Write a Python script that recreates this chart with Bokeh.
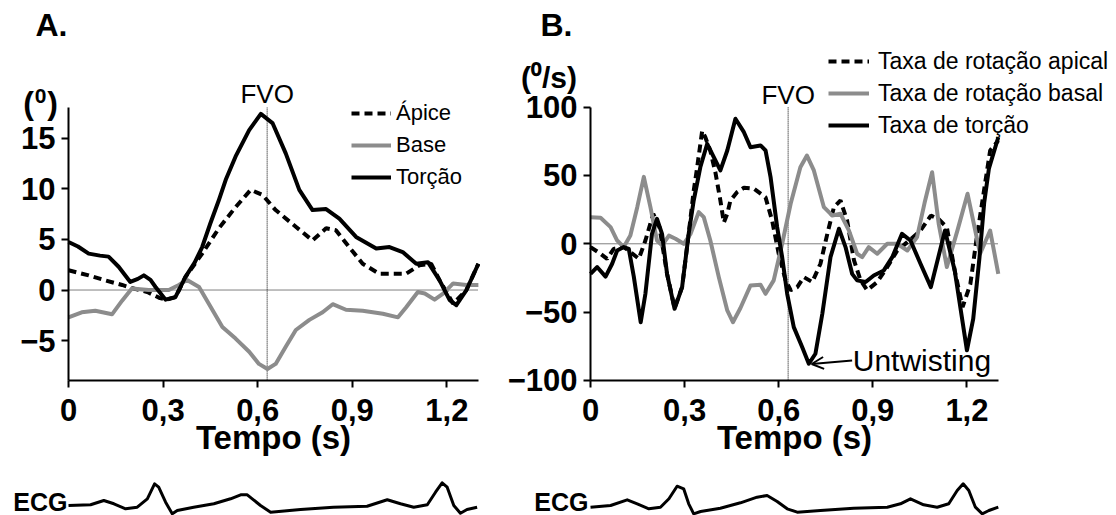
from bokeh.plotting import figure
from bokeh.models import Range1d, FixedTicker, Label, Legend, LegendItem, Arrow, OpenHead
from bokeh.layouts import row
from bokeh.embed import file_html
from bokeh.resources import INLINE

FONT = "Liberation Sans"

# ---------------- Panel A: rotation (degrees) ----------------
torcao_t = [0, .03, .064, .1, .127, .159, .196, .22, .239, .26, .276, .308, .339, .371, .4, .424, .45, .477,
            .5, .53, .573, .61, .647, .689, .732, .774, .817, .859, .912, .976, 1.018, 1.06, 1.103, 1.14,
            1.177, 1.209, 1.23, 1.262, 1.3]
torcao_v = [4.75, 4.3, 3.6, 3.4, 3.3, 2.3, 0.8, 1.1, 1.45, 1.0, 0.3, -0.95, -0.7, 1.3, 2.7, 4.25, 6.6, 8.9,
            11.0, 13.2, 15.8, 17.4, 16.5, 13.5, 9.9, 7.9, 8.0, 7.05, 5.25, 4.1, 4.25, 3.75, 2.6, 2.75,
            0.95, -1.0, -1.5, 0.0, 2.6]

apice_t = [0, .064, .117, .17, .2, .25, .29, .31, .34, .371, .424, .477, .53, .578, .615, .657, .721, .774,
           .817, .848, .89, .933, .986, 1.07, 1.113, 1.15, 1.177, 1.22, 1.262, 1.3]
apice_v = [1.95, 1.45, 0.95, 0.5, 0.2, -0.2, -0.8, -0.95, -0.7, 1.3, 3.6, 6.1, 8.2, 9.9, 9.4, 7.9, 6.25, 4.9,
           6.1, 5.9, 4.25, 2.6, 1.6, 1.6, 2.45, 2.6, 0.95, -1.35, 0.0, 2.6]

base_t = [0, .042, .085, .138, .17, .201, .254, .318, .35, .376, .414, .445, .488, .53, .573, .604, .631,
          .657, .689, .721, .764, .806, .838, .88, .933, .997, 1.045, 1.071, 1.108, 1.13, 1.161, 1.188,
          1.22, 1.262, 1.3]
base_v = [-2.7, -2.2, -2.05, -2.4, -1.05, 0.15, 0.0, 0.0, 0.5, 1.0, 0.3, -1.35, -3.65, -4.8, -6.1, -7.3, -7.8,
          -7.3, -5.6, -3.95, -2.95, -2.2, -1.4, -1.95, -2.05, -2.35, -2.7, -1.7, -0.2, -0.35, -0.95, -0.35,
          0.65, 0.5, 0.5]

# ---------------- Panel B: rotation rates (deg/s) ----------------
tx_torcao_t = [0, .021, .048, .069, .085, .106, .122, .138, .16, .175, .196, .212, .228, .244, .268, .292,
               .313, .329, .35, .372, .393, .414, .436, .462, .489, .51, .542, .558, .574, .595, .611, .627,
               .648, .675, .696, .717, .739, .765, .792, .813, .834, .85, .877, .903, .935, .962, .993, 1.02,
               1.052, 1.085, 1.13, 1.161, 1.2, 1.22, 1.24, 1.255, 1.27, 1.3]
tx_torcao_v = [-22, -17, -24, -14.6, -4.9, -2.4, -3.7, -24, -57.4, -36.6, 7.3, 18.3, 7.3, -22, -47.6, -31.7,
               7.3, 31.7, 56, 73.2, 63.4, 53.7, 68.3, 91.5, 81.7, 70.7, 72, 68.3, 48.8, 12.2, -9.8, -36.6,
               -61, -75.7, -87.8, -80.5, -51.2, -9.8, 11, -2.4, -22, -26.8, -28, -23.2, -19.5, -9.8, 7.3, 2.4,
               -14.6, -31.7, 9.7, -19.5, -78, -55, -10, 30, 55, 78]

tx_apical_t = [0, .032, .053, .074, .106, .127, .154, .175, .2, .22, .244, .268, .292, .313, .329, .34, .356,
               .366, .382, .398, .414, .425, .436, .446, .467, .489, .521, .558, .579, .6, .622, .638, .659,
               .68, .707, .733, .755, .776, .797, .818, .84, .861, .882, .914, .946, .978, 1.01, 1.052, 1.085,
               1.11, 1.136, 1.161, 1.186, 1.211, 1.23, 1.274, 1.3]
tx_apical_v = [-2.4, -7.3, -11, -3.7, -2.4, -6, -11, 2.4, 22, 12, -22, -47, -31.7, 7.3, 38.8, 56, 82.7,
               78, 68, 52.4, 31.7, 15.6, 22, 31.7, 37.8, 41, 40.3, 34, 17, -7.3, -26.8, -34, -31.7,
               -24.4, -28, -14.6, 7.3, 26.8, 31.7, 17, -12.2, -26.8, -34, -28, -17, -4.9, 1.2, 9.7, 20.7,
               18, 12, -19.5, -46.4, -29.3, 2.4, 68.3, 75.6]

tx_basal_t = [0, .032, .064, .085, .106, .127, .149, .17, .191, .212, .228, .25, .271, .297, .319, .345, .361,
              .382, .409, .436, .454, .478, .51, .542, .558, .584, .611, .638, .669, .69, .712, .744, .771,
              .797, .824, .85, .866, .887, .914, .946, .978, 1.01, 1.041, 1.065, 1.089, 1.11, 1.136, 1.17,
              1.202, 1.242, 1.274, 1.3]
tx_basal_v = [19.5, 19, 12.2, 2.4, -2.4, 6, 26.8, 49, 26.8, 2.4, -1.2, 6, 3.7, 0, 7.3, 23.2, 19.5,
              2.4, -24.4, -48.8, -57.4, -47, -30.5, -30, -36.6, -26.8, 0, 29.3, 56, 64.6, 53.7, 26.8, 20.7,
              22, 9.7, -7.3, -9.8, -2.4, -7.3, 0, 0, -4.9, 4.9, 30, 52.4, 14.6, -17, 10,
              36.6, -7.3, 9.7, -22]

# ---------------- ECG traces (arbitrary units) ----------------
ecg_a_t = [0, .070, .112, .144, .181, .218, .25, .273, .286, .308, .329, .345, .397, .461, .514, .546, .567,
           .609, .641, .736, .84, .947, 1.011, 1.053, 1.095, 1.138, 1.164, 1.185, 1.201, 1.222, 1.243, 1.264,
           1.296]
ecg_a_v = [0, .035, .25, .085, -.165, -.085, .335, 1.085, .915, .165, -.415, -.25, -.085, .085, .335, .535,
           .535, 0, -.335, -.2, -.085, -.035, .285, .085, -.085, .035, .665, 1.135, .915, 0, -.385, -.2, -.085]

ecg_b_t = [0, .064, .117, .149, .186, .223, .25, .276, .297, .313, .329, .351, .414, .478, .531, .563, .595,
           .627, .659, .733, .839, .946, .988, 1.02, 1.062, 1.105, 1.142, 1.169, 1.188, 1.206, 1.227, 1.249,
           1.27, 1.3]
ecg_b_v = [-.085, 0, .285, .085, -.165, -.085, .335, .965, .835, .085, -.415, -.3, -.135, .135, .415, .5, .2,
           -.165, -.335, -.25, -.135, -.085, .085, .335, .035, -.085, .085, .75, 1.085, .75, -.085, -.415,
           -.25, -.085]

x_ticks = [0, 0.3, 0.6, 0.9, 1.2]
x_tick_labels = ["0", "0,3", "0,6", "0,9", "1,2"]
time_bounds = (0, 1.3)
a_y_ticks = [-5, 0, 5, 10, 15]
a_y_bounds = (-8.93, 18.03)
b_y_ticks = [-100, -50, 0, 50, 100]
b_y_bounds = (-100, 100)
fvo_time = 0.63

BLACK = "#000000"
GRAY = "#8c8c8c"


def txt(p, x, y, text, size, bold=False, align="left", **kw):
    p.add_layout(Label(x=x, y=y, text=text, text_font=FONT, text_font_size=size,
                       text_font_style="bold" if bold else "normal", text_color=BLACK,
                       text_align=align, text_baseline="middle", **kw))


def make_panel(width, x_range, y_range, ecg_range, yticks, ybounds):
    p = figure(width=width, height=515, x_range=x_range, y_range=y_range,
               extra_y_ranges={"ecg": ecg_range},
               output_backend="svg", toolbar_location=None, min_border=0)
    p.grid.visible = False
    p.outline_line_color = None
    p.background_fill_color = "white"
    p.xaxis.fixed_location = ybounds[0]
    p.xaxis.bounds = time_bounds
    p.yaxis.fixed_location = 0
    p.yaxis.bounds = ybounds
    p.xaxis.ticker = FixedTicker(ticks=x_ticks)
    p.xaxis.major_label_overrides = {t: l for t, l in zip(x_ticks, x_tick_labels)}
    p.yaxis.ticker = FixedTicker(ticks=yticks)
    for ax in (p.xaxis, p.yaxis):
        ax.axis_line_width = 2
        ax.major_tick_line_width = 2
        ax.major_tick_out = 7
        ax.major_tick_in = 0
        ax.minor_tick_line_color = None
        ax.major_label_text_font = FONT
        ax.major_label_text_font_style = "bold"
        ax.major_label_text_font_size = "31px"
        ax.major_label_text_color = BLACK
        ax.axis_line_color = BLACK
        ax.major_tick_line_color = BLACK
    p.xaxis.major_label_standoff = 12
    p.yaxis.major_label_standoff = 6
    p.xaxis.axis_label = "Tempo (s)"
    p.xaxis.axis_label_text_font = FONT
    p.xaxis.axis_label_text_font_style = "bold"
    p.xaxis.axis_label_text_font_size = "33px"
    p.xaxis.axis_label_text_color = BLACK
    p.xaxis.axis_label_standoff = -6
    # dotted zero line and FVO marker
    p.line([time_bounds[0], time_bounds[1]], [0, 0], line_color=BLACK, line_width=1, line_dash="1 1")
    p.line([fvo_time, fvo_time], [ybounds[0], ybounds[1]], line_color=BLACK, line_width=1, line_dash="1 1")
    return p


def legend(items, loc, glyph_w, standoff, size):
    return Legend(items=[LegendItem(label=l, renderers=[r]) for l, r in items],
                  location=loc, glyph_width=glyph_w, glyph_height=32, label_height=32, spacing=0,
                  padding=0, margin=0, label_standoff=standoff, label_text_font=FONT,
                  label_text_font_size=size, label_text_color=BLACK,
                  border_line_alpha=0, background_fill_alpha=0)


# ---------- Figure A (page x 0..480) ----------
pA = make_panel(480, Range1d(-0.2157, 1.3067), Range1d(-22.28, 28.61), Range1d(-0.5, 25.25),
                a_y_ticks, a_y_bounds)
rA_ap = pA.line(apice_t, apice_v, line_color=BLACK, line_width=4, line_dash="8 5")
rA_ba = pA.line(base_t, base_v, line_color=GRAY, line_width=4, line_join="round")
rA_to = pA.line(torcao_t, torcao_v, line_color=BLACK, line_width=4, line_join="round")
pA.add_layout(legend([("Ápice", rA_ap), ("Base", rA_ba), ("Torção", rA_to)], (351, 322), 40, 5, "22px"))

txt(pA, -0.1047, 26.14, "A.", "32px", bold=True)
# unit label "(⁰)": parentheses with a raised zero
txt(pA, -0.1269, 18.48, "(", "32px", bold=True, align="center")
txt(pA, -0.0888, 19.2, "0", "21px", bold=True, align="center")
txt(pA, -0.0507, 18.48, ")", "32px", bold=True, align="center")
txt(pA, fvo_time, 19.39, "FVO", "26px", align="center")
pA.line(ecg_a_t, ecg_a_v, y_range_name="ecg", line_color=BLACK, line_width=3, line_join="round")
txt(pA, -0.0032, 0.175, "ECG", "25px", bold=True, align="right", y_range_name="ecg")

# ---------- Figure B (page x 480..1116) ----------
pB = make_panel(636, Range1d(-0.3507, 1.6768), Range1d(-198.9, 178.1), Range1d(-0.5, 25.25),
                b_y_ticks, b_y_bounds)
rB_ap = pB.line(tx_apical_t, tx_apical_v, line_color=BLACK, line_width=4, line_dash="8 5")
rB_ba = pB.line(tx_basal_t, tx_basal_v, line_color=GRAY, line_width=4, line_join="round")
rB_to = pB.line(tx_torcao_t, tx_torcao_v, line_color=BLACK, line_width=4, line_join="round")
pB.add_layout(legend([("Taxa de rotação apical", rB_ap), ("Taxa de rotação basal", rB_ba),
                      ("Taxa de torção", rB_to)], (348, 374), 41, 9, "23px"))

txt(pB, -0.1594, 159.8, "B.", "32px", bold=True)
txt(pB, -0.1323, 121.4, "(\u2070/s)", "30px", bold=True, align="center")
txt(pB, fvo_time, 108.6, "FVO", "26px", align="center")
pB.add_layout(Arrow(end=OpenHead(size=12, line_width=2, line_color=BLACK), x_start=0.834, y_start=-85.4,
                    x_end=0.705, y_end=-88, line_width=2, line_color=BLACK))
txt(pB, 0.836, -85.4, "Untwisting", "30px")
pB.line(ecg_b_t, ecg_b_v, y_range_name="ecg", line_color=BLACK, line_width=3, line_join="round")
txt(pB, -0.0064, 0.175, "ECG", "25px", bold=True, align="right", y_range_name="ecg")

layout = row(pA, pB)
open("out.html", "w").write(file_html(layout, INLINE))
